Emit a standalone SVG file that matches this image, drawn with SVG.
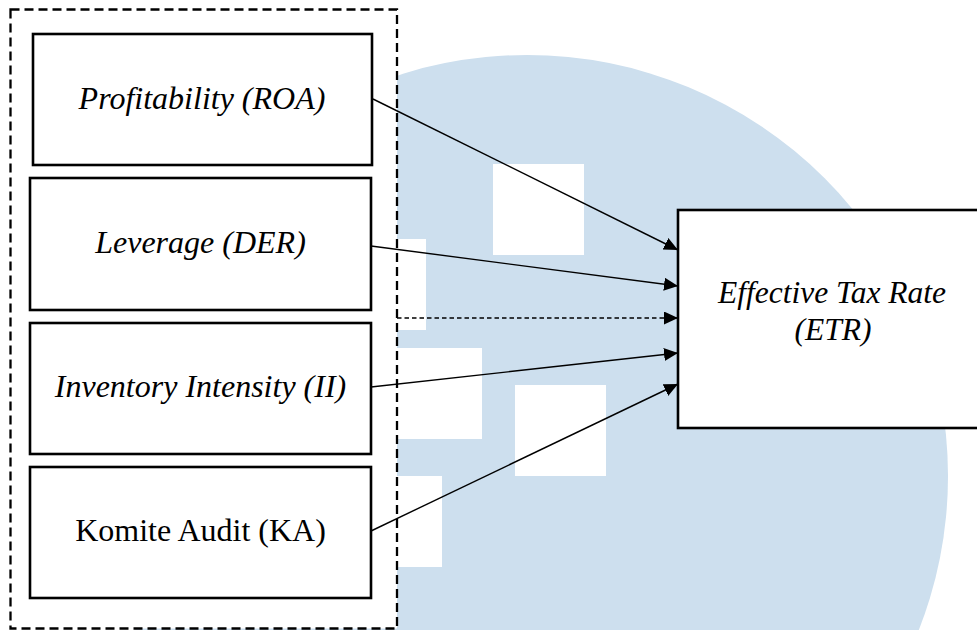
<svg xmlns="http://www.w3.org/2000/svg" width="977" height="630" viewBox="0 0 977 630">
  <style>
    .box { fill: #ffffff; stroke: #000000; stroke-width: 2.6; }
    .lbl { font-family: "Liberation Serif", "Times New Roman", serif; font-size: 32px; fill: #000000; text-anchor: middle; }
    .it { font-style: italic; }
    .conn { stroke: #000000; stroke-width: 1.4; fill: none; }
    .dash { stroke-dasharray: 4.5 3; }
    .wm { fill: #ffffff; }
  </style>
  <defs>
    <marker id="arrow" markerUnits="userSpaceOnUse" markerWidth="15" markerHeight="14" refX="14" refY="6.5" orient="auto">
      <path d="M0,0 L14,6.5 L0,13 z" fill="#000000"/>
    </marker>
  </defs>

  <rect width="977" height="630" fill="#ffffff"/>

  <g id="background">
    <circle cx="527" cy="476" r="421" fill="#cddfee"/>
    <rect class="wm" x="493" y="164" width="91" height="91"/>
    <rect class="wm" x="335" y="239" width="91" height="91"/>
    <rect class="wm" x="391" y="348" width="91" height="91"/>
    <rect class="wm" x="515" y="385" width="91" height="91"/>
    <rect class="wm" x="351" y="476" width="91" height="91"/>
  </g>

  <g id="group-independent">
    <rect x="10.5" y="9.5" width="386.5" height="619" fill="#ffffff" stroke="#000000" stroke-width="2.3" stroke-dasharray="9 5"/>
  </g>

  <g id="node-roa">
    <rect class="box" x="33" y="34" width="339" height="131"/>
    <text class="lbl it" x="202" y="109">Profitability (ROA)</text>
  </g>
  <g id="node-der">
    <rect class="box" x="30" y="178" width="341" height="132"/>
    <text class="lbl it" x="200.5" y="253">Leverage (DER)</text>
  </g>
  <g id="node-ii">
    <rect class="box" x="30" y="323" width="341" height="131"/>
    <text class="lbl it" x="200.5" y="397">Inventory Intensity (II)</text>
  </g>
  <g id="node-ka">
    <rect class="box" x="30" y="467" width="341" height="131"/>
    <text class="lbl" x="200.5" y="541">Komite Audit (KA)</text>
  </g>
  <g id="node-etr">
    <rect class="box" x="678" y="210" width="310" height="218"/>
    <text class="lbl it" x="832" y="303" style="font-size:31.5px">Effective Tax Rate</text>
    <text class="lbl it" x="833" y="340" style="font-size:31.5px">(ETR)</text>
  </g>

  <g id="connectors">
    <line class="conn" x1="373" y1="99" x2="678" y2="250" marker-end="url(#arrow)"/>
    <line class="conn" x1="371" y1="246" x2="678" y2="286" marker-end="url(#arrow)"/>
    <line class="conn dash" x1="397" y1="318" x2="678" y2="318" marker-end="url(#arrow)"/>
    <line class="conn" x1="371" y1="387" x2="678" y2="353" marker-end="url(#arrow)"/>
    <line class="conn" x1="371" y1="531" x2="678" y2="384" marker-end="url(#arrow)"/>
  </g>
</svg>
